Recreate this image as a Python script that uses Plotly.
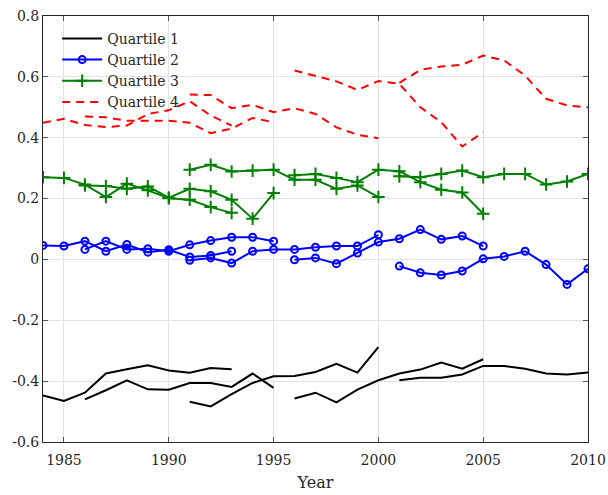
import plotly.graph_objects as go

# each quartile has five overlapping 10-year windows
window_starts = [1984, 1986, 1991, 1996, 2001]
window_len = 10

quartile1 = [
    [-0.447, -0.465, -0.438, -0.375, -0.361, -0.348, -0.365, -0.372, -0.357, -0.361],
    [-0.460, -0.430, -0.397, -0.427, -0.428, -0.406, -0.406, -0.419, -0.375, -0.422],
    [-0.468, -0.483, -0.443, -0.406, -0.384, -0.383, -0.370, -0.343, -0.372, -0.288],
    [-0.457, -0.438, -0.470, -0.428, -0.397, -0.375, -0.362, -0.339, -0.359, -0.328],
    [-0.397, -0.389, -0.389, -0.378, -0.350, -0.350, -0.359, -0.375, -0.378, -0.372],
]
quartile2 = [
    [0.046, 0.044, 0.060, 0.027, 0.049, 0.024, 0.032, 0.008, 0.013, 0.027],
    [0.033, 0.060, 0.033, 0.035, 0.027, 0.048, 0.062, 0.073, 0.073, 0.060],
    [-0.003, 0.005, -0.012, 0.027, 0.033, 0.033, 0.040, 0.044, 0.044, 0.081],
    [-0.001, 0.005, -0.014, 0.021, 0.057, 0.068, 0.098, 0.066, 0.077, 0.044],
    [-0.022, -0.044, -0.051, -0.038, 0.002, 0.010, 0.027, -0.017, -0.082, -0.031],
]
quartile3 = [
    [0.270, 0.268, 0.246, 0.205, 0.249, 0.227, 0.201, 0.196, 0.172, 0.153],
    [0.243, 0.241, 0.232, 0.240, 0.203, 0.232, 0.224, 0.196, 0.134, 0.218],
    [0.295, 0.311, 0.289, 0.292, 0.295, 0.262, 0.262, 0.232, 0.243, 0.205],
    [0.277, 0.281, 0.268, 0.254, 0.295, 0.290, 0.254, 0.229, 0.220, 0.150],
    [0.273, 0.270, 0.281, 0.292, 0.270, 0.281, 0.281, 0.246, 0.256, 0.281],
]
quartile4 = [
    [0.449, 0.462, 0.442, 0.435, 0.440, 0.478, 0.490, 0.520, 0.473, 0.440],
    [0.470, 0.467, 0.456, 0.456, 0.456, 0.449, 0.415, 0.430, 0.465, 0.451],
    [0.542, 0.540, 0.497, 0.508, 0.484, 0.497, 0.478, 0.434, 0.410, 0.398],
    [0.621, 0.602, 0.585, 0.557, 0.586, 0.577, 0.500, 0.451, 0.371, 0.418],
    [0.580, 0.623, 0.634, 0.640, 0.670, 0.654, 0.604, 0.528, 0.506, 0.500],
]
names = ["Quartile 1", "Quartile 2", "Quartile 3", "Quartile 4"]

y_ticks = [-0.6, -0.4, -0.2, 0, 0.2, 0.4, 0.6, 0.8]
y_ticktext = ["-0.6", "-0.4", "-0.2", "0", "0.2", "0.4", "0.6", "0.8"]
x_ticks = [1985, 1990, 1995, 2000, 2005, 2010]

font_family = "DejaVu Serif"
text_color = "#262626"

styles = [
    dict(mode="lines", line=dict(color="black", width=2)),
    dict(
        mode="lines+markers",
        line=dict(color="#0000ff", width=2),
        marker=dict(symbol="circle-open", size=7, color="#0000ff", line=dict(width=2)),
    ),
    dict(
        mode="lines+markers",
        line=dict(color="#008000", width=2),
        marker=dict(symbol="cross-thin-open", size=9, color="#008000", line=dict(width=2)),
    ),
    dict(mode="lines", line=dict(color="#ff0000", width=2, dash="8px,6px")),
]

fig = go.Figure()
for name, segs, st in zip(names, [quartile1, quartile2, quartile3, quartile4], styles):
    # one trace per quartile, windows separated by None so they stay unconnected
    xs, ys = [], []
    for start, vals in zip(window_starts, segs):
        xs += list(range(start, start + window_len)) + [None]
        ys += vals + [None]
    fig.add_trace(go.Scatter(x=xs, y=ys, name=name, connectgaps=False, **st))

axis_common = dict(
    showline=True,
    linecolor=text_color,
    linewidth=1,
    mirror="ticks",
    ticks="inside",
    ticklen=5,
    tickcolor="#555555",
    showgrid=True,
    gridcolor="#e3e3e3",
    zeroline=False,
    automargin=False,
    ticklabeloverflow="allow",
    tickfont=dict(family=font_family, size=14, color=text_color),
)
fig.update_xaxes(
    range=[1984, 2010],
    tickvals=x_ticks,
    ticklabelstandoff=5,
    title=dict(text="Year", font=dict(family=font_family, size=16, color=text_color), standoff=10),
    **axis_common,
)
fig.update_yaxes(range=[-0.6, 0.8], tickvals=y_ticks, ticktext=y_ticktext, **axis_common)
fig.update_layout(
    width=608,
    height=495,
    margin=dict(l=43, r=20, t=16, b=53),
    plot_bgcolor="white",
    paper_bgcolor="white",
    showlegend=True,
    legend=dict(
        x=0.026,
        y=0.984,
        xanchor="left",
        yanchor="top",
        bgcolor="rgba(255,255,255,0)",
        font=dict(family=font_family, size=14, color=text_color),
        tracegroupgap=0,
        itemwidth=40,
    ),
)
# drop the default 8px page margin so the figure fills the window exactly
fig.write_html(
    "out.html",
    config={"displayModeBar": False},
    post_script="document.body.style.margin='0';",
)
